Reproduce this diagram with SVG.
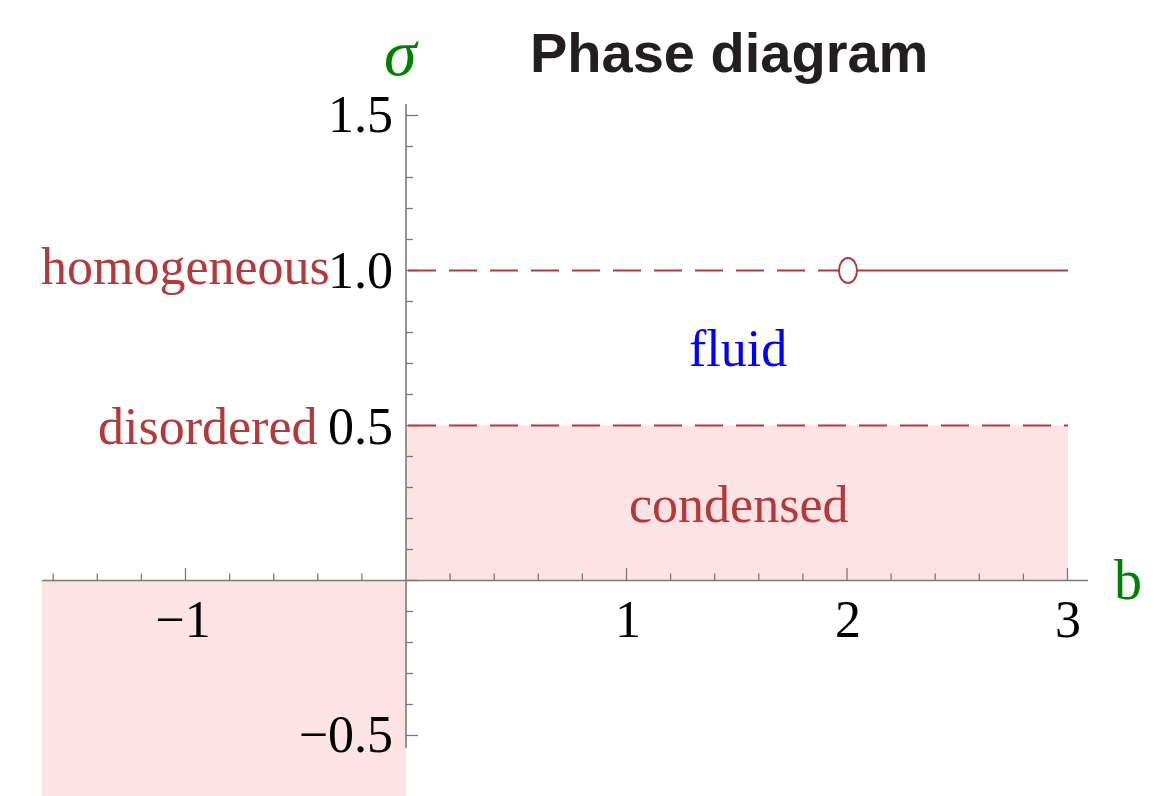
<svg xmlns="http://www.w3.org/2000/svg" width="1161" height="796" viewBox="0 0 1161 796">
<style>
.serif{font-family:"Liberation Serif","Times New Roman",serif;font-size:52px}
.num{fill:#000}
.red{fill:#b23a3a}
.green{fill:#008000}
.axis{stroke:#7a7a7a;stroke-width:1.6;fill:none}
.tick{stroke:#7a7a7a;stroke-width:1.3}
.bound{stroke:#b23b3b;stroke-width:2;fill:none}
.fill{fill:#fee3e5}
</style>
<rect width="1161" height="796" fill="#fff"/>
<g id="regions">
<rect class="fill" x="406" y="425.5" width="662" height="155"/>
<rect class="fill" x="42" y="580.5" width="364" height="216"/>
</g>
<g id="axes">
<line class="axis" x1="42" y1="580.5" x2="1088" y2="580.5"/>
<line class="axis" x1="406" y1="104" x2="406" y2="748"/>
<g class="tick">
<line x1="53.2" y1="580.5" x2="53.2" y2="573.5"/>
<line x1="97.3" y1="580.5" x2="97.3" y2="573.5"/>
<line x1="141.4" y1="580.5" x2="141.4" y2="573.5"/>
<line x1="185.5" y1="580.5" x2="185.5" y2="568"/>
<line x1="229.6" y1="580.5" x2="229.6" y2="573.5"/>
<line x1="273.7" y1="580.5" x2="273.7" y2="573.5"/>
<line x1="317.8" y1="580.5" x2="317.8" y2="573.5"/>
<line x1="361.9" y1="580.5" x2="361.9" y2="573.5"/>
<line x1="450.1" y1="580.5" x2="450.1" y2="573.5"/>
<line x1="494.2" y1="580.5" x2="494.2" y2="573.5"/>
<line x1="538.3" y1="580.5" x2="538.3" y2="573.5"/>
<line x1="582.4" y1="580.5" x2="582.4" y2="573.5"/>
<line x1="626.5" y1="580.5" x2="626.5" y2="568"/>
<line x1="670.6" y1="580.5" x2="670.6" y2="573.5"/>
<line x1="714.7" y1="580.5" x2="714.7" y2="573.5"/>
<line x1="758.8" y1="580.5" x2="758.8" y2="573.5"/>
<line x1="802.9" y1="580.5" x2="802.9" y2="573.5"/>
<line x1="847" y1="580.5" x2="847" y2="568"/>
<line x1="891.1" y1="580.5" x2="891.1" y2="573.5"/>
<line x1="935.2" y1="580.5" x2="935.2" y2="573.5"/>
<line x1="979.3" y1="580.5" x2="979.3" y2="573.5"/>
<line x1="1023.4" y1="580.5" x2="1023.4" y2="573.5"/>
<line x1="1067.5" y1="580.5" x2="1067.5" y2="568"/>
<line x1="406" y1="115.5" x2="418" y2="115.5"/>
<line x1="406" y1="146.5" x2="413" y2="146.5"/>
<line x1="406" y1="177.5" x2="413" y2="177.5"/>
<line x1="406" y1="208.5" x2="413" y2="208.5"/>
<line x1="406" y1="239.5" x2="413" y2="239.5"/>
<line x1="406" y1="270.5" x2="418" y2="270.5"/>
<line x1="406" y1="301.5" x2="413" y2="301.5"/>
<line x1="406" y1="332.5" x2="413" y2="332.5"/>
<line x1="406" y1="363.5" x2="413" y2="363.5"/>
<line x1="406" y1="394.5" x2="413" y2="394.5"/>
<line x1="406" y1="425.5" x2="418" y2="425.5"/>
<line x1="406" y1="456.5" x2="413" y2="456.5"/>
<line x1="406" y1="487.5" x2="413" y2="487.5"/>
<line x1="406" y1="518.5" x2="413" y2="518.5"/>
<line x1="406" y1="549.5" x2="413" y2="549.5"/>
<line x1="406" y1="580.5" x2="418" y2="580.5"/>
<line x1="406" y1="611.5" x2="413" y2="611.5"/>
<line x1="406" y1="642.5" x2="413" y2="642.5"/>
<line x1="406" y1="673.5" x2="413" y2="673.5"/>
<line x1="406" y1="704.5" x2="413" y2="704.5"/>
<line x1="406" y1="735.5" x2="418" y2="735.5"/>
</g>
<g class="serif num">
<text x="393" y="132" text-anchor="end">1.5</text>
<text x="393" y="288" text-anchor="end">1.0</text>
<text x="393" y="444" text-anchor="end">0.5</text>
<text x="393" y="752" text-anchor="end">−0.5</text>
<text x="183" y="637" text-anchor="middle">−1</text>
<text x="628" y="637" text-anchor="middle">1</text>
<text x="848" y="637" text-anchor="middle">2</text>
<text x="1068" y="637" text-anchor="middle">3</text>
</g>
<text class="green" x="1114" y="599" style="font-family:'Liberation Serif',serif;font-size:56px">b</text>
<text class="green" x="384" y="75" style="font-family:'Liberation Serif',serif;font-size:66px;font-style:italic">σ</text>
</g>
<g id="connectors">
<line class="bound" x1="408" y1="270.5" x2="839" y2="270.5" stroke-dasharray="28 13"/>
<line class="bound" x1="857" y1="270.5" x2="1068" y2="270.5"/>
<line class="bound" x1="408" y1="425.5" x2="1068" y2="425.5" stroke-dasharray="28 13"/>
</g>
<g id="point">
<ellipse cx="848" cy="270.5" rx="9" ry="12.5" fill="none" stroke="#b23b3b" stroke-width="2"/>
</g>
<g id="labels">
<text class="serif red" x="41" y="284">homogeneous</text>
<text class="serif red" x="98" y="444">disordered</text>
<text class="serif red" x="629" y="522">condensed</text>
<text class="serif" x="689" y="366" fill="#0000ff">fluid</text>
</g>
<text id="title" x="530" y="72" style="font-family:'Liberation Sans',Arial,sans-serif;font-size:56px;font-weight:bold" fill="#231f20">Phase diagram</text>
</svg>
